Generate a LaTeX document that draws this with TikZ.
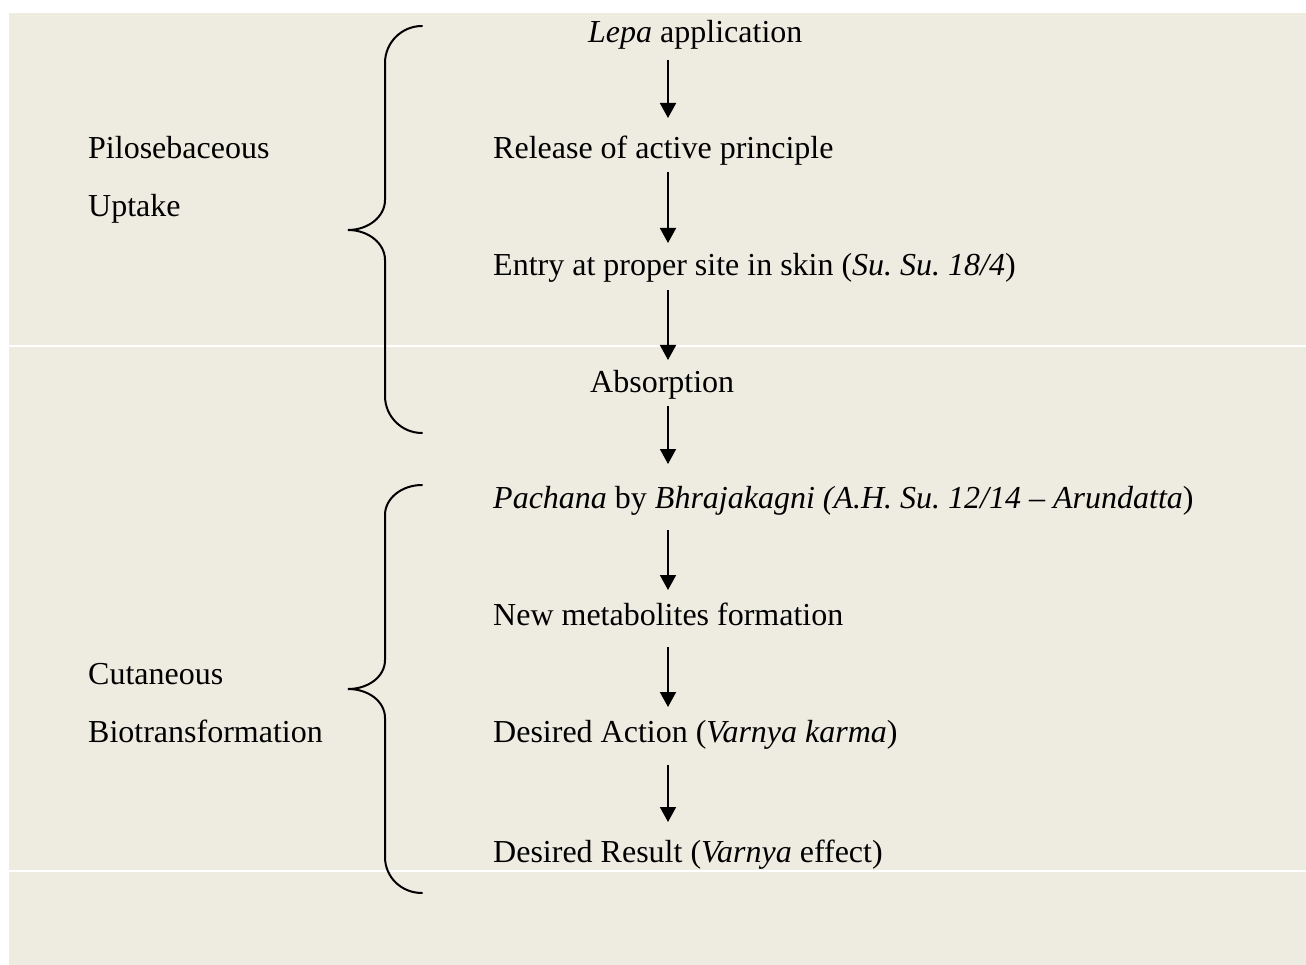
\documentclass[tikz,border=0pt]{standalone}
\usepackage{fontspec}
\setmainfont{Liberation Serif}
\usetikzlibrary{arrows.meta,calc}
\definecolor{bgtan}{RGB}{238,236,225}
\tikzset{
  txt/.style={anchor=base west, inner sep=0pt, font=\fontsize{32}{38}\selectfont},
  arr/.style={line width=1.8pt, -{Triangle[width=16pt,length=15pt]}},
  brace/.style={line width=2pt, line cap=round}
}
\frenchspacing
\begin{document}
\begin{tikzpicture}[x=1pt,y=-1pt]
\useasboundingbox (0,0) rectangle (1306,965);
\fill[white] (0,0) rectangle (1306,965);
\fill[bgtan] (9,13) rectangle (1306,965);
\draw[white, line width=1.2pt] (9,346) -- (1306,346);
\draw[white, line width=1.2pt] (9,871) -- (1306,871);

\coordinate (ax) at (668,0);

% flow nodes
\node[txt] (n1) at (588,43) {\textit{Lepa} application};
\node[txt] (n2) at (493,159) {Release of active principle};
\node[txt] (n3) at (493,276) {Entry at proper site in skin (\textit{Su. Su. 18/4})};
\node[txt] (n4) at (590,392) {Absorption};
\node[txt] (n5) at (493,508) {\textit{Pachana} by \textit{Bhrajakagni (A.H. Su. 12/14 – Arundatta})};
\node[txt] (n6) at (493,625) {New metabolites formation};
\node[txt] (n7) at (493,742) {Desired Action (\textit{Varnya karma})};
\node[txt] (n8) at (493,862) {Desired Result (\textit{Varnya} effect)};

% left labels
\node[txt] (l1) at (88,159) {Pilosebaceous};
\node[txt] (l2) at (88,217) {Uptake};
\node[txt] (l3) at (88,684) {Cutaneous};
\node[txt] (l4) at (88,742) {Biotransformation};

% arrows
\draw[arr] ($(n1.base -| ax)+(0,17)$) -- ($(n2.base -| ax)+(0,-41)$);
\draw[arr] ($(n2.base -| ax)+(0,13)$) -- ($(n3.base -| ax)+(0,-33)$);
\draw[arr] ($(n3.base -| ax)+(0,14)$) -- ($(n4.base -| ax)+(0,-32)$);
\draw[arr] ($(n4.base -| ax)+(0,14)$) -- ($(n5.base -| ax)+(0,-44)$);
\draw[arr] ($(n5.base -| ax)+(0,22)$) -- ($(n6.base -| ax)+(0,-35)$);
\draw[arr] ($(n6.base -| ax)+(0,22)$) -- ($(n7.base -| ax)+(0,-35)$);
\draw[arr] ($(n7.base -| ax)+(0,23)$) -- ($(n8.base -| ax)+(0,-40)$);

% braces
\draw[brace] (422,26) .. controls (401.6,26) and (385,42.6) .. (385,63)
  -- (385,200) .. controls (385,216.6) and (368.4,230) .. (348,230)
  .. controls (368.4,230) and (385,243.4) .. (385,260)
  -- (385,396) .. controls (385,416.4) and (401.6,433) .. (422,433);
\draw[brace] (422,485) .. controls (401.6,485) and (385,498.4) .. (385,515)
  -- (385,660) .. controls (385,676.6) and (368.4,689) .. (348,689)
  .. controls (368.4,689) and (385,701.4) .. (385,718)
  -- (385,857) .. controls (385,877.4) and (401.6,893) .. (422,893);
\end{tikzpicture}
\end{document}
